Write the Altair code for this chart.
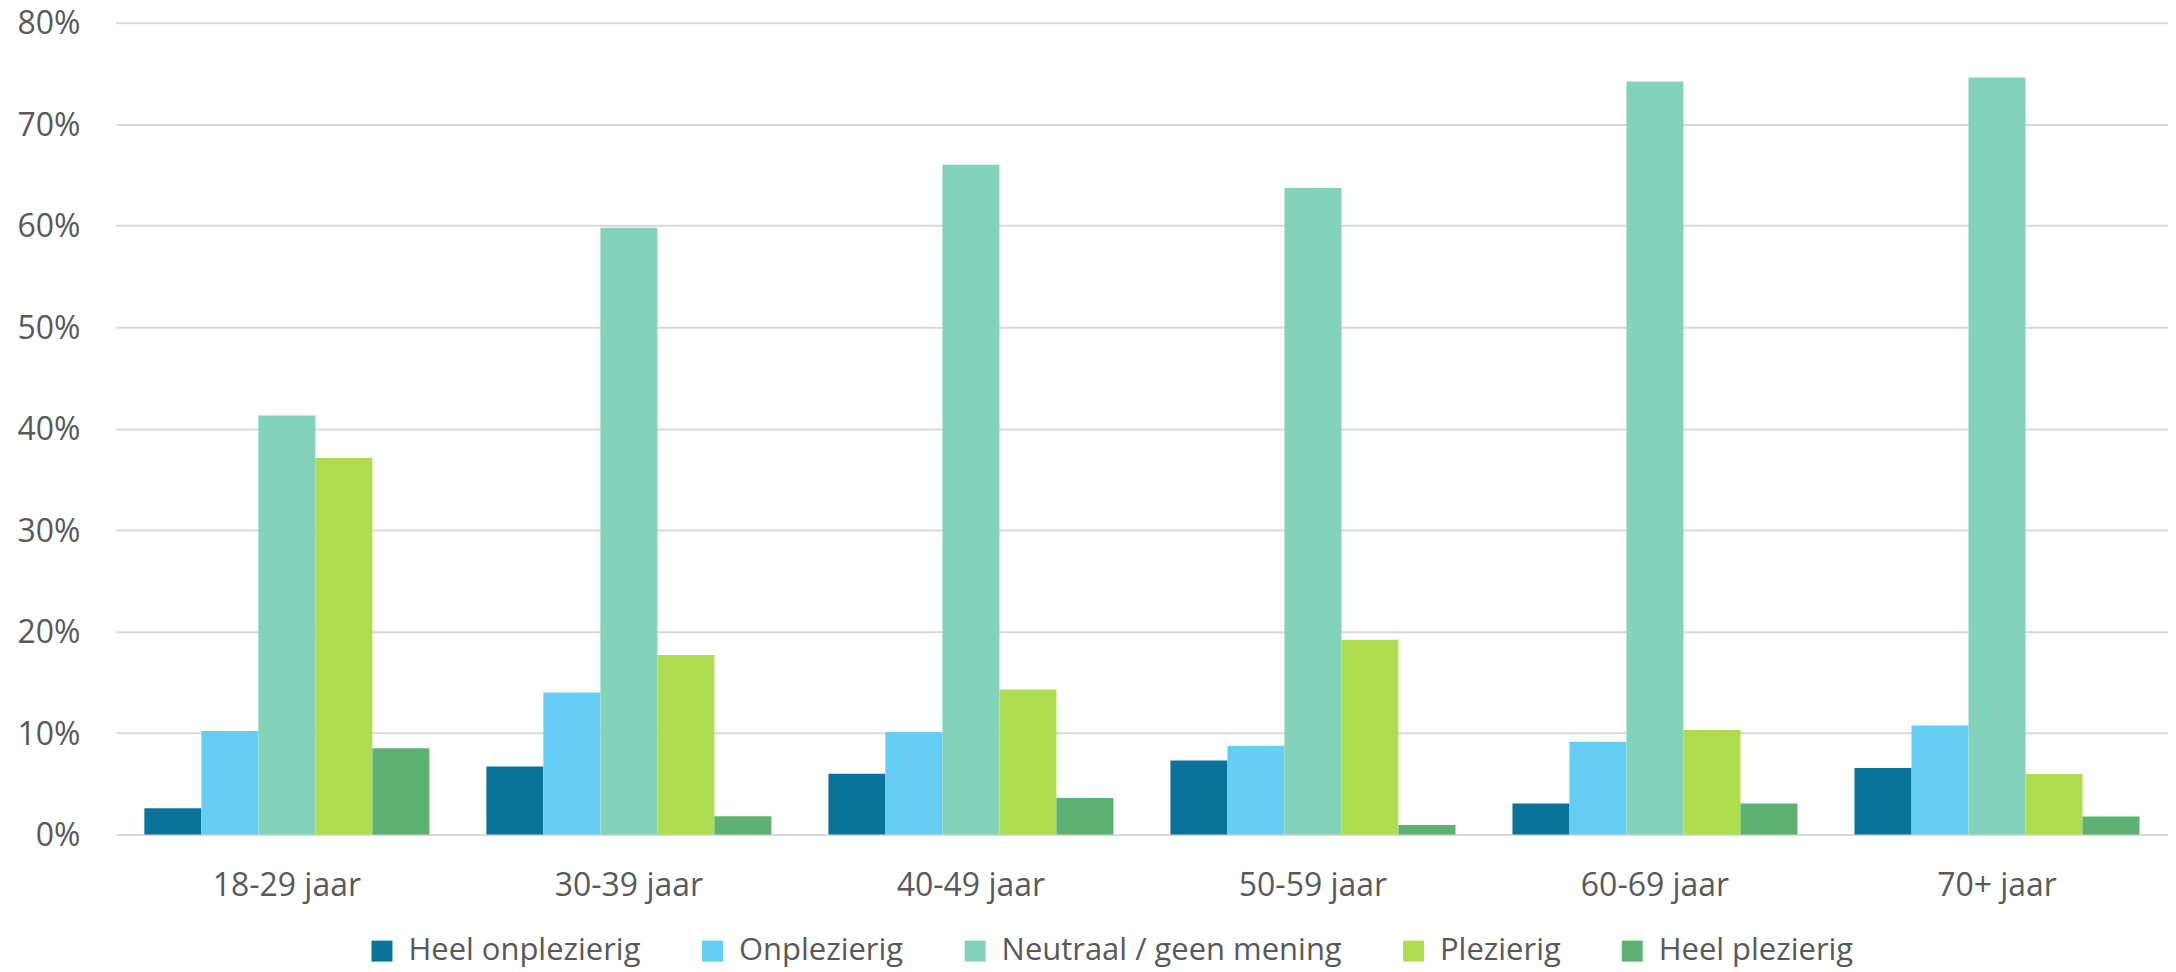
import altair as alt
import pandas as pd

groups = ["18-29 jaar", "30-39 jaar", "40-49 jaar", "50-59 jaar", "60-69 jaar", "70+ jaar"]
categories = ["Heel onplezierig", "Onplezierig", "Neutraal / geen mening", "Plezierig", "Heel plezierig"]
colors = ["#0A7399", "#66CDF5", "#82D3B9", "#AEDE4F", "#5DB273"]

heel_onplezierig = [2.6, 6.7, 6.0, 7.3, 3.05, 6.55]
onplezierig = [10.2, 14.0, 10.1, 8.75, 9.15, 10.75]
neutraal = [41.3, 59.8, 66.0, 63.7, 74.2, 74.6]
plezierig = [37.1, 17.7, 14.3, 19.2, 10.3, 5.97]
heel_plezierig = [8.5, 1.8, 3.6, 0.95, 3.05, 1.77]

series = [heel_onplezierig, onplezierig, neutraal, plezierig, heel_plezierig]
rows = []
for cat, vals in zip(categories, series):
    for g, v in zip(groups, vals):
        rows.append({"groep": g, "categorie": cat, "waarde": v / 100.0})
df = pd.DataFrame(rows)

FONT = "Open Sans"
TEXT = "#595959"

chart = alt.Chart(df).mark_bar().encode(
    x=alt.X("groep:N", sort=groups, title=None,
            scale=alt.Scale(paddingInner=1/6, paddingOuter=1/12),
            axis=alt.Axis(labelAngle=0, ticks=False, tickSize=0, domain=False,
                          labelFont=FONT, labelFontSize=32, labelColor=TEXT,
                          labelBaseline="alphabetic", labelPadding=61)),
    xOffset=alt.XOffset("categorie:N", sort=categories,
                        scale=alt.Scale(paddingInner=0, paddingOuter=0)),
    y=alt.Y("waarde:Q", title=None,
            scale=alt.Scale(domain=[0, 0.8], nice=False),
            axis=alt.Axis(format=".0%", values=[0, 0.1, 0.2, 0.3, 0.4, 0.5, 0.6, 0.7, 0.8],
                          ticks=False, tickSize=0, domain=False,
                          grid=True, gridColor="#D9D9D9", gridWidth=2,
                          labelFont=FONT, labelFontSize=32, labelColor=TEXT,
                          labelPadding=36, labelOffset=1)),
    color=alt.Color("categorie:N", sort=categories,
                    scale=alt.Scale(domain=categories, range=colors),
                    legend=alt.Legend(title=None, orient="none", direction="horizontal",
                                      legendX=251, legendY=914,
                                      symbolType="square", symbolSize=441,
                                      symbolStrokeWidth=0, labelOffset=11,
                                      columnPadding=56, labelLimit=0,
                                      labelFont=FONT, labelFontSize=31, labelColor=TEXT)),
).properties(
    width=2055,
    height=813,
    autosize=alt.AutoSizeParams(type="none"),
    padding={"left": 108, "top": 14, "right": 0, "bottom": 137},
).configure_view(stroke=None)

chart.save("out.html", embed_options={"renderer": "svg", "actions": False})
